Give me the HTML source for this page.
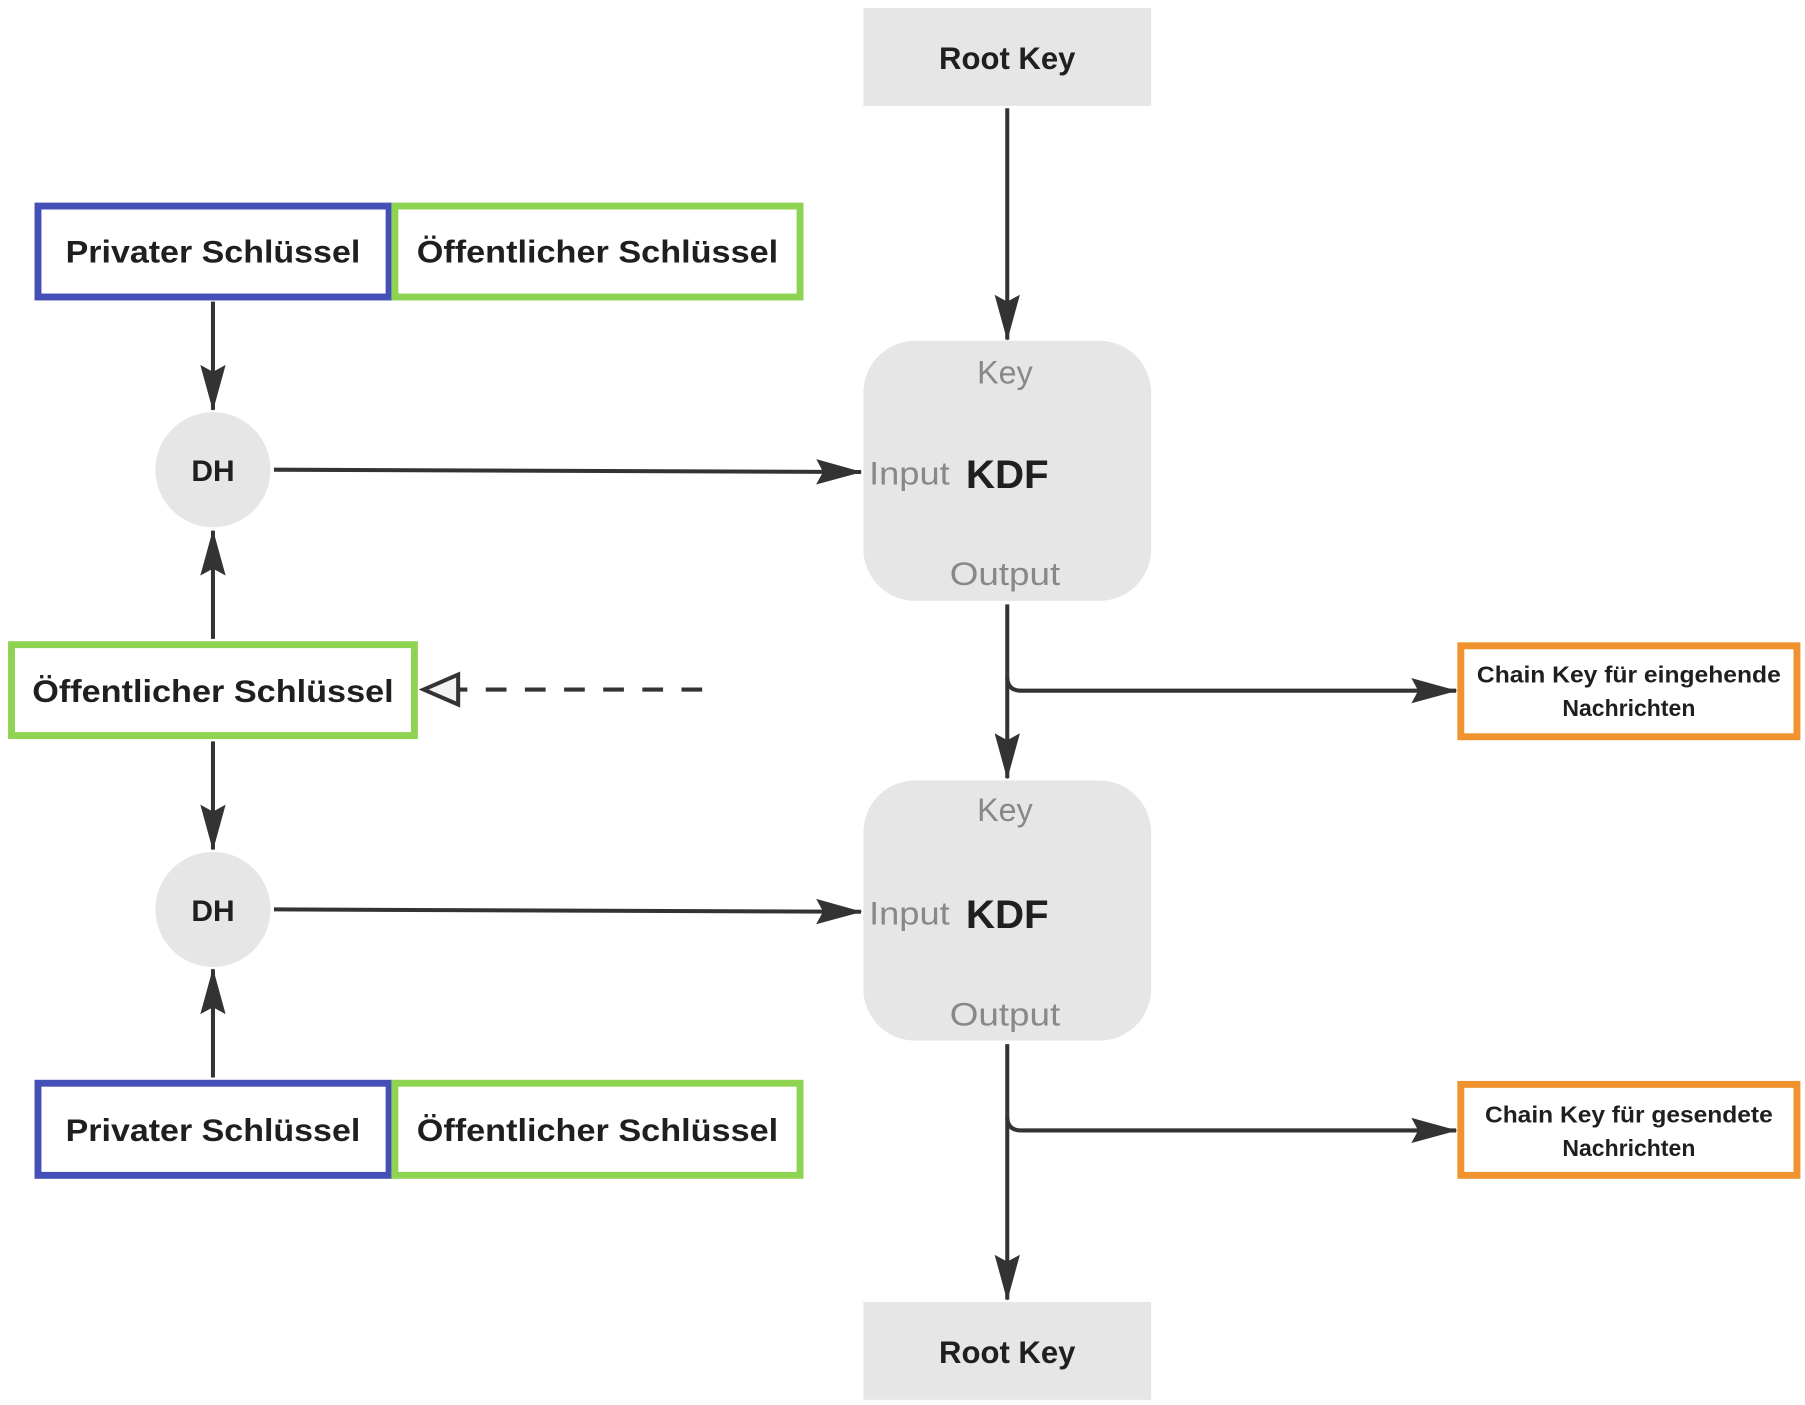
<!DOCTYPE html>
<html><head><meta charset="utf-8"><style>html,body{margin:0;padding:0;background:#fff}svg{display:block}</style></head>
<body>
<svg width="1805" height="1405" viewBox="0 0 1568 1220.5" preserveAspectRatio="none" xmlns="http://www.w3.org/2000/svg" font-family="Liberation Sans, DejaVu Sans, sans-serif">
<defs>
<marker id="a" viewBox="0 0 40 24" refX="39" refY="12" markerWidth="40" markerHeight="24" markerUnits="userSpaceOnUse" orient="auto">
<path d="M0,1 L40,12 L0,23 L6,12 Z" fill="#333"/>
</marker>
</defs>
<g fill="#e6e6e6">
<rect x="750" y="7" width="250" height="85"/>
<rect x="750" y="1131" width="250" height="85"/>
<rect x="750" y="296" width="250" height="226" rx="45"/>
<rect x="750" y="678" width="250" height="226" rx="45"/>
<circle cx="185" cy="408" r="50"/>
<circle cx="185" cy="790" r="50"/>
</g>
<g fill="#fff" stroke-width="6">
<rect x="33" y="179" width="305" height="79" stroke="#4450b8"/>
<rect x="343" y="179" width="352" height="79" stroke="#8ed351"/>
<rect x="33" y="941" width="305" height="80" stroke="#4450b8"/>
<rect x="343" y="941" width="352" height="80" stroke="#8ed351"/>
<rect x="10" y="560" width="350" height="79" stroke="#8ed351"/>
<rect x="1269" y="561" width="292" height="79" stroke="#f0922e"/>
<rect x="1269" y="942" width="292" height="79" stroke="#f0922e"/>
</g>
<g stroke="#333" stroke-width="3.5" fill="none" marker-end="url(#a)">
<path d="M875,94 V295"/>
<path d="M185,262 V356"/>
<path d="M238,408 L748,410"/>
<path d="M185,555 V461"/>
<path d="M185,644 V738"/>
<path d="M238,790 L748,792"/>
<path d="M185,936 V842"/>
<path d="M875,525 V676"/>
<path d="M875,588 Q875,600 887,600 H1265"/>
<path d="M875,907 V1129"/>
<path d="M875,970 Q875,982 887,982 H1265"/>
</g>
<path d="M610,599 H398" stroke="#333" stroke-width="3.5" stroke-dasharray="18,16" fill="none"/>
<path d="M368,599 L398,586 L398,612 Z" fill="#f2f2f2" stroke="#333" stroke-width="3.5"/>
<g fill="#1f1f1f" font-weight="bold" text-anchor="middle">
<text x="875" y="60" font-size="27">Root Key</text>
<text x="875" y="1184" font-size="27">Root Key</text>
<text x="185" y="228" font-size="27" textLength="256" lengthAdjust="spacingAndGlyphs">Privater Schlüssel</text>
<text x="519" y="228" font-size="27" textLength="314" lengthAdjust="spacingAndGlyphs">Öffentlicher Schlüssel</text>
<text x="185" y="991" font-size="27" textLength="256" lengthAdjust="spacingAndGlyphs">Privater Schlüssel</text>
<text x="519" y="991" font-size="27" textLength="314" lengthAdjust="spacingAndGlyphs">Öffentlicher Schlüssel</text>
<text x="185" y="610" font-size="27" textLength="314" lengthAdjust="spacingAndGlyphs">Öffentlicher Schlüssel</text>
<text x="185" y="418" font-size="26">DH</text>
<text x="185" y="800" font-size="26">DH</text>
<text x="875" y="424" font-size="35">KDF</text>
<text x="875" y="806" font-size="35">KDF</text>
<text x="1415" y="593" font-size="20" textLength="264" lengthAdjust="spacingAndGlyphs">Chain Key für eingehende</text>
<text x="1415" y="622" font-size="20">Nachrichten</text>
<text x="1415" y="975" font-size="20" textLength="250" lengthAdjust="spacingAndGlyphs">Chain Key für gesendete</text>
<text x="1415" y="1004" font-size="20">Nachrichten</text>
</g>
<g fill="#888" font-size="28" text-anchor="middle">
<text x="873" y="333">Key</text>
<text x="790" y="421" textLength="70" lengthAdjust="spacingAndGlyphs">Input</text>
<text x="873" y="508" textLength="96" lengthAdjust="spacingAndGlyphs">Output</text>
<text x="873" y="713">Key</text>
<text x="790" y="803" textLength="70" lengthAdjust="spacingAndGlyphs">Input</text>
<text x="873" y="891" textLength="96" lengthAdjust="spacingAndGlyphs">Output</text>
</g>
</svg>
</body></html>
